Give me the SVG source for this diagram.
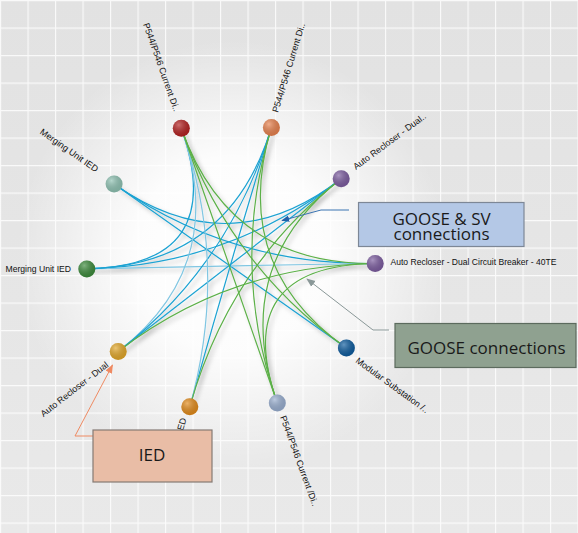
<svg xmlns="http://www.w3.org/2000/svg" width="578" height="533" viewBox="0 0 578 533">
<defs>
  <pattern id="grid" width="27.5" height="27.5" patternUnits="userSpaceOnUse">
    <path d="M0 0.5H27.5M0.5 0V27.5" stroke="#ffffff" stroke-width="1.3" stroke-opacity="0.8" fill="none"/>
  </pattern>
  <linearGradient id="bgg" x1="0" y1="0" x2="0" y2="1">
    <stop offset="0" stop-color="#e2e2e2"/>
    <stop offset="1" stop-color="#e9e9e9"/>
  </linearGradient>
  <radialGradient id="glow" cx="232" cy="255" r="215" gradientUnits="userSpaceOnUse">
    <stop offset="0" stop-color="#ffffff" stop-opacity="1"/>
    <stop offset="0.45" stop-color="#ffffff" stop-opacity="0.9"/>
    <stop offset="1" stop-color="#ffffff" stop-opacity="0"/>
  </radialGradient>
  <radialGradient id="shine" cx="0.35" cy="0.3" r="0.75">
    <stop offset="0" stop-color="#ffffff" stop-opacity="0.35"/>
    <stop offset="1" stop-color="#000000" stop-opacity="0.12"/>
  </radialGradient>
  <filter id="shadow" x="-20%" y="-20%" width="140%" height="140%">
    <feDropShadow dx="3" dy="3" stdDeviation="2" flood-color="#000" flood-opacity="0.25"/>
  </filter>
  <marker id="aBlue" viewBox="0 0 10 10" refX="9" refY="5" markerWidth="8" markerHeight="8" orient="auto" markerUnits="userSpaceOnUse">
    <path d="M0,1 L10,5 L0,9 z" fill="#1f5fa8"/>
  </marker>
  <marker id="aGrey" viewBox="0 0 10 10" refX="9" refY="5" markerWidth="9" markerHeight="9" orient="auto" markerUnits="userSpaceOnUse">
    <path d="M0,1 L10,5 L0,9 z" fill="#8a9898"/>
  </marker>
  <marker id="aOrange" viewBox="0 0 10 10" refX="9" refY="5" markerWidth="9" markerHeight="9" orient="auto" markerUnits="userSpaceOnUse">
    <path d="M0,1 L10,5 L0,9 z" fill="#ef8a62"/>
  </marker>
</defs>
<style>
  .e{fill:none;stroke-width:1.2}
  .b{stroke:#1ba2d2}
  .lb{stroke:#80c6e2}
  .g{stroke:#5cb048}
  .lbl{font-family:"Liberation Sans",Arial,sans-serif;font-size:9px;fill:#111111}
  .box rect{stroke-width:1.2}
  .box text{font-family:"Open Sans","Liberation Sans",sans-serif;font-size:17px;fill:#1a1a1a;text-anchor:middle}
  .call{fill:none;stroke-width:1}
</style>

<rect width="578" height="533" fill="url(#bgg)"/>
<rect width="578" height="533" fill="url(#grid)"/>
<rect width="578" height="533" fill="url(#glow)"/>

<g id="connectors" filter="url(#shadow)">
  <!-- GOOSE & SV (blue) -->
  <path class="e b" d="M114.1 184 Q229.5 265.5 341.2 178.8"/>
  <path class="e b" d="M114.1 184 Q229.5 265.5 375.2 263.5"/>
  <path class="e b" d="M114.1 184 Q229.5 265.5 346.4 348.1"/>
  <path class="e b" d="M86.8 268.9 Q229.5 265.5 341.2 178.8"/>
  <path class="e lb" d="M86.8 268.9 Q229.5 265.5 375.2 263.5"/>
  <path class="e b" d="M86.8 268.9 Q229.5 265.5 271.4 127.6"/>
  <path class="e b" d="M86.8 268.9 Q229.5 265.5 181.3 128.3"/>
  <path class="e lb" d="M118.2 351.5 Q229.5 265.5 181.3 128.3"/>
  <path class="e b" d="M118.2 351.5 Q229.5 265.5 271.4 127.6"/>
  <path class="e b" d="M118.2 351.5 Q229.5 265.5 341.2 178.8"/>
  <path class="e b" d="M189.8 406.8 Q229.5 265.5 271.4 127.6"/>
  <path class="e lb" d="M189.8 406.8 Q229.5 265.5 181.3 128.3"/>
  <!-- GOOSE (green) -->
  <path class="e g" d="M277.3 403 Q229.5 265.5 181.3 128.3"/>
  <path class="e g" d="M277.3 403 Q229.5 265.5 271.4 127.6"/>
  <path class="e g" d="M277.3 403 Q229.5 265.5 341.2 178.8"/>
  <path class="e g" d="M277.3 403 Q229.5 265.5 375.2 263.5"/>
  <path class="e g" d="M346.4 348.1 Q229.5 265.5 181.3 128.3"/>
  <path class="e g" d="M346.4 348.1 Q229.5 265.5 271.4 127.6"/>
  <path class="e g" d="M341.2 178.8 Q229.5 265.5 189.8 406.8"/>
  <path class="e g" d="M375.2 263.5 Q229.5 265.5 118.2 351.5"/>
  <path class="e g" d="M375.2 263.5 Q229.5 265.5 181.3 128.3"/>
</g>

<g id="node-p544-1"><circle cx="181.3" cy="128.3" r="8.5" fill="#b31f1f"/><circle cx="181.3" cy="128.3" r="8.5" fill="url(#shine)"/>
  <text class="lbl" text-anchor="end" transform="translate(174 112) rotate(70.6)">P544/P546 Current Di..</text></g>
<g id="node-p544-2"><circle cx="271.4" cy="127.6" r="8.5" fill="#e8804c"/><circle cx="271.4" cy="127.6" r="8.5" fill="url(#shine)"/>
  <text class="lbl" transform="translate(278 113) rotate(-73)">P544/P546 Current Di..</text></g>
<g id="node-ar-1"><circle cx="341.2" cy="178.8" r="8.5" fill="#7b5b9f"/><circle cx="341.2" cy="178.8" r="8.5" fill="url(#shine)"/>
  <text class="lbl" transform="translate(356 170) rotate(-36.5)">Auto Recloser - Dual..</text></g>
<g id="node-ar-2"><circle cx="375.2" cy="263.5" r="8.5" fill="#7b5b9f"/><circle cx="375.2" cy="263.5" r="8.5" fill="url(#shine)"/>
  <text class="lbl" x="390.5" y="264.5" textLength="166" lengthAdjust="spacingAndGlyphs">Auto Recloser - Dual Circuit Breaker - 40TE</text></g>
<g id="node-modular"><circle cx="346.4" cy="348.1" r="8.5" fill="#0c5b9e"/><circle cx="346.4" cy="348.1" r="8.5" fill="url(#shine)"/>
  <text class="lbl" transform="translate(355 362) rotate(36)">Modular Substation /..</text></g>
<g id="node-p544-3"><circle cx="277.3" cy="403" r="8.5" fill="#98aed0"/><circle cx="277.3" cy="403" r="8.5" fill="url(#shine)"/>
  <text class="lbl" transform="translate(280 417) rotate(70)">P544/P546 Current /Di..</text></g>
<g id="node-ied"><circle cx="189.8" cy="406.8" r="8.5" fill="#e28a18"/><circle cx="189.8" cy="406.8" r="8.5" fill="url(#shine)"/>
  <text class="lbl" text-anchor="end" transform="translate(186.5 419) rotate(-74)">IED</text></g>
<g id="node-ar-3"><circle cx="118.2" cy="351.5" r="8.5" fill="#e2a626"/><circle cx="118.2" cy="351.5" r="8.5" fill="url(#shine)"/>
  <text class="lbl" text-anchor="end" transform="translate(109 366) rotate(-38)">Auto Recloser - Dual</text></g>
<g id="node-mu-1"><circle cx="86.8" cy="268.9" r="8.5" fill="#3b8a3a"/><circle cx="86.8" cy="268.9" r="8.5" fill="url(#shine)"/>
  <text class="lbl" text-anchor="end" x="71" y="271.5" textLength="65.5" lengthAdjust="spacingAndGlyphs">Merging Unit IED</text></g>
<g id="node-mu-2"><circle cx="114.1" cy="184" r="8.5" fill="#8ec2b2"/><circle cx="114.1" cy="184" r="8.5" fill="url(#shine)"/>
  <text class="lbl" text-anchor="end" transform="translate(95.5 172.5) rotate(35)">Merging Unit IED</text></g>

<g id="callout-sv" class="box">
  <polyline class="call" points="349,210 321,210 282,220.5" stroke="#3a74b2" marker-end="url(#aBlue)"/>
  <rect x="358.5" y="202.5" width="165.5" height="44" fill="#b4c8e6" stroke="#7d8796"/>
  <text x="441.5" y="225">GOOSE &amp; SV<tspan x="441.5" y="239.5">connections</tspan></text>
</g>
<g id="callout-goose" class="box">
  <polyline class="call" points="389,330 373,330 307,279" stroke="#8a9898" marker-end="url(#aGrey)"/>
  <rect x="395" y="323.5" width="181" height="44" fill="#8fa190" stroke="#5c6b5e"/>
  <text x="486.5" y="353.5">GOOSE connections</text>
</g>
<g id="callout-ied" class="box">
  <polyline class="call" points="93,436 75,436 112.5,365" stroke="#ef8a62" marker-end="url(#aOrange)"/>
  <rect x="93" y="430" width="119" height="52" fill="#e9bda6" stroke="#857a74"/>
  <text x="152" y="461">IED</text>
</g>
</svg>
